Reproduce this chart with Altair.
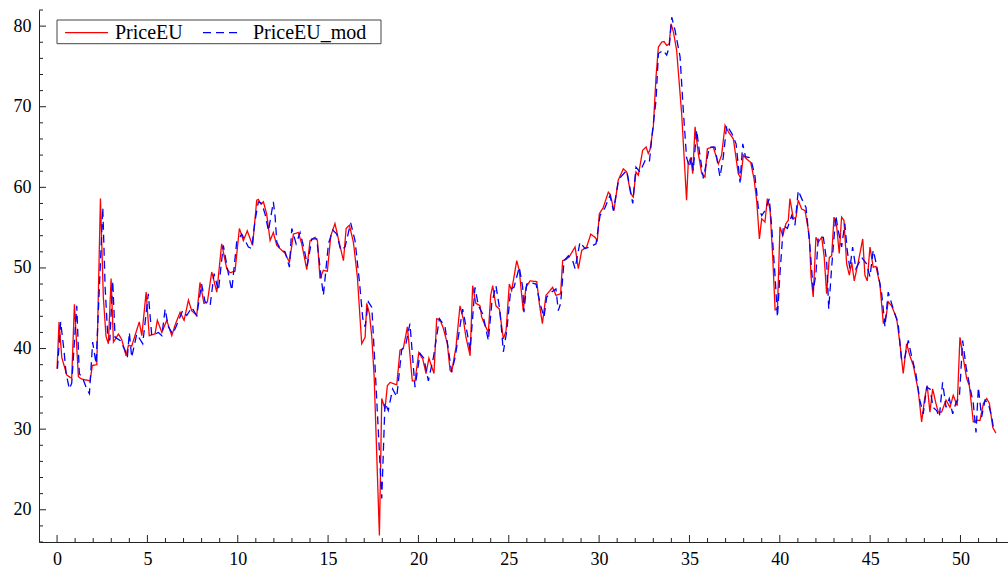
import altair as alt
import pandas as pd

# PriceEU series (time in years, price)
price_x = [
    0.00, 0.11, 0.26, 0.54, 0.81, 0.96, 1.18, 1.37, 1.83, 1.95, 2.20, 2.40, 2.56, 2.71, 2.84,
    2.99, 3.12, 3.40, 3.58, 3.82, 3.95, 4.13, 4.55, 4.69, 4.93, 5.10, 5.42, 5.55, 5.80, 6.07,
    6.35, 6.53, 6.81, 7.03, 7.27, 7.45, 7.73, 7.91, 8.13, 8.32, 8.56, 8.84, 9.11, 9.39, 9.57,
    9.85, 10.09, 10.31, 10.53, 10.82, 11.05, 11.14, 11.29, 11.42, 11.60, 11.79, 11.97, 12.16,
    12.43, 12.62, 12.86, 13.08, 13.35, 13.54, 13.82, 14.00, 14.28, 14.41, 14.55, 14.74, 14.96,
    15.15, 15.38, 15.57, 15.85, 16.00, 16.18, 16.40, 16.62, 16.86, 17.05, 17.14, 17.29, 17.42,
    17.55, 17.84, 17.97, 18.15, 18.28, 18.43, 18.80, 18.98, 19.16, 19.39, 19.66, 19.81, 20.02,
    20.24, 20.42, 20.58, 20.86, 21.01, 21.19, 21.38, 21.60, 21.75, 21.84, 22.08, 22.30, 22.48,
    22.63, 22.86, 23.00, 23.18, 23.41, 23.50, 23.68, 23.87, 24.00, 24.11, 24.29, 24.48, 24.70,
    24.85, 25.03, 25.16, 25.44, 25.58, 25.80, 25.95, 26.18, 26.55, 26.69, 26.86, 27.06, 27.43,
    27.61, 27.87, 27.98, 28.20, 28.35, 28.67, 28.85, 29.04, 29.31, 29.54, 29.77, 29.90, 30.01,
    30.23, 30.51, 30.62, 30.82, 31.06, 31.34, 31.53, 31.75, 31.89, 32.04, 32.17, 32.41, 32.60,
    32.72, 32.82, 33.00, 33.15, 33.28, 33.46, 33.59, 33.74, 33.88, 33.98, 34.11, 34.29, 34.57,
    34.84, 34.93, 35.07, 35.18, 35.31, 35.49, 35.68, 35.86, 35.99, 36.32, 36.60, 36.78, 36.97,
    37.15, 37.43, 37.70, 37.84, 37.98, 38.17, 38.39, 38.57, 38.72, 38.87, 39.00, 39.18, 39.31,
    39.46, 39.61, 39.74, 39.87, 40.01, 40.16, 40.34, 40.47, 40.56, 40.75, 40.90, 41.02, 41.21,
    41.40, 41.63, 41.73, 41.85, 42.00, 42.13, 42.32, 42.46, 42.59, 42.74, 42.87, 43.00, 43.15,
    43.29, 43.42, 43.55, 43.70, 43.85, 43.98, 44.12, 44.34, 44.59, 44.71, 44.84, 44.99, 45.17,
    45.32, 45.54, 45.73, 45.88, 46.00, 46.19, 46.47, 46.65, 46.83, 47.02, 47.20, 47.39, 47.66,
    47.85, 48.03, 48.16, 48.31, 48.46, 48.64, 48.77, 48.95, 49.20, 49.42, 49.60, 49.82, 49.97,
    50.15, 50.34, 50.49, 50.71, 50.90, 51.08, 51.27, 51.45, 51.60, 51.79, 51.96,
]
price_eu = [
    37.5, 43.3, 38.9, 36.7, 36.3, 45.5, 36.5, 36.2, 36.0, 37.9, 38.0, 58.6, 46.4, 41.5, 40.6,
    48.7, 40.8, 41.8, 41.1, 39.1, 40.4, 40.3, 43.3, 41.6, 47.0, 41.6, 41.8, 43.5, 42.0, 43.5,
    41.6, 42.9, 44.5, 43.5, 46.0, 44.7, 44.1, 48.2, 45.6, 45.8, 49.5, 47.0, 53.0, 49.9, 49.4,
    49.6, 54.9, 53.4, 54.6, 52.8, 58.4, 58.5, 57.9, 58.2, 56.7, 53.4, 54.4, 52.8,
    52.2, 51.8, 50.7, 54.2, 54.4, 53.0, 49.8, 53.4, 53.8, 53.4, 48.7, 49.7, 49.6,
    54.0, 55.5, 53.6, 50.9, 54.9, 55.3, 53.2, 48.9, 40.6, 41.4, 45.6, 44.3, 41.4,
    36.5, 16.8, 33.8, 32.5, 35.4, 35.8, 35.5, 39.8, 40.0, 42.7, 36.0, 36.0, 39.5,
    38.7, 36.9, 38.8, 36.9, 43.7, 43.6, 42.5, 40.6, 37.3, 37.1, 40.2, 45.3, 43.7,
    41.4, 39.1, 47.8, 45.6, 45.3, 43.9, 42.9, 42.0, 46.6, 47.8, 45.3, 44.9, 41.2,
    42.2, 48.0, 47.2, 50.9, 49.7, 44.7, 47.6, 48.4, 48.3, 45.6, 43.1, 46.6, 47.6,
    46.6, 46.8, 50.9, 51.1, 51.4, 52.6, 49.9, 52.2, 52.6, 54.2, 53.8, 53.4, 56.7,
    57.5, 59.4, 59.1, 57.1, 60.9, 62.3, 61.9, 59.2, 58.8, 61.9, 61.5, 64.6, 65.0,
    64.2, 64.7, 67.5, 73.7, 77.4, 78.0, 78.1, 77.6, 77.8, 80.3, 79.3, 77.0, 69.1,
    58.4, 62.9, 63.7, 61.7, 67.5, 64.2, 61.7, 61.3, 64.8, 65.0, 62.9, 64.0, 67.7,
    66.9, 66.0, 61.7, 61.1, 64.0, 63.5, 63.1, 61.1, 58.4, 53.6, 56.1, 55.7, 58.6,
    57.3, 51.3, 44.8, 44.9, 55.1, 54.0, 55.5, 55.9, 58.6, 56.1, 56.3, 58.4, 57.3,
    57.1, 54.0, 48.9, 46.4, 53.8, 53.2, 53.8, 51.3, 46.8, 51.3, 51.5, 56.3, 55.1,
    51.8, 56.3, 55.9, 50.5, 49.1, 50.7, 48.4, 50.7, 53.6, 49.1, 48.4, 52.6, 50.1,
    50.2, 48.0, 43.1, 43.9, 45.8, 45.3, 43.7, 40.6, 36.9, 40.6, 39.1, 37.9, 34.8,
    30.9, 34.0, 35.4, 32.1, 35.0, 33.2, 32.1, 32.1, 33.6, 32.7, 34.2, 32.9, 41.4,
    38.9, 36.3, 35.4, 30.9, 31.1, 31.1, 33.2, 33.8, 33.2, 30.2, 29.5,
]

# PriceEU_mod series (model estimate)
mod_x = [
    0.02, 0.20, 0.39, 0.50, 0.68, 0.81, 1.09, 1.23, 1.42, 1.64, 1.79, 1.97, 2.16, 2.53, 2.66,
    2.80, 2.92, 3.08, 3.21, 3.49, 3.76, 3.89, 4.00, 4.13, 4.41, 4.74, 5.05, 5.24, 5.61, 5.80,
    5.98, 6.16, 6.40, 6.60, 6.95, 7.18, 7.45, 7.73, 8.00, 8.19, 8.47, 8.69, 8.93, 9.20, 9.48,
    9.67, 9.94, 10.22, 10.59, 10.77, 10.96, 11.14, 11.33, 11.51, 11.70, 11.97, 12.07, 12.16,
    12.34, 12.62, 12.86, 12.99, 13.23, 13.45, 13.67, 13.85, 14.10, 14.37, 14.65, 14.74, 15.02,
    15.26, 15.48, 15.70, 15.94, 16.25, 16.49, 16.73, 16.92, 17.05, 17.23, 17.42, 17.60, 17.97,
    18.15, 18.33, 18.57, 18.80, 19.07, 19.30, 19.53, 19.81, 20.09, 20.30, 20.55, 20.83, 21.16,
    21.47, 21.84, 22.03, 22.45, 22.71, 22.86, 23.13, 23.32, 23.56, 23.87, 24.06, 24.29, 24.51,
    24.70, 24.89, 25.11, 25.29, 25.58, 25.77, 25.84, 25.99, 26.18, 26.51, 26.73, 26.95, 27.10,
    27.37, 27.61, 27.74, 27.87, 28.06, 28.30, 28.54, 28.67, 28.94, 29.22, 29.50, 29.83, 30.05,
    30.33, 30.60, 30.79, 31.06, 31.20, 31.53, 31.86, 32.04, 32.26, 32.54, 32.78, 32.96, 33.15,
    33.28, 33.55, 33.74, 33.88, 34.02, 34.20, 34.48, 34.66, 34.84, 34.99, 35.12, 35.21, 35.40,
    35.54, 35.77, 36.10, 36.41, 36.69, 36.87, 37.06, 37.34, 37.58, 37.80, 37.95, 38.10, 38.31,
    38.44, 38.62, 38.81, 39.00, 39.18, 39.42, 39.55, 39.74, 39.87, 40.01, 40.20, 40.42, 40.66,
    40.84, 41.02, 41.21, 41.45, 41.67, 41.85, 42.00, 42.13, 42.41, 42.59, 42.71, 42.87, 43.10,
    43.23, 43.42, 43.60, 43.73, 43.88, 44.03, 44.21, 44.53, 44.80, 44.99, 45.17, 45.36, 45.64,
    45.82, 46.00, 46.28, 46.55, 46.74, 46.92, 47.11, 47.29, 47.53, 47.75, 47.94, 48.13, 48.31,
    48.49, 48.68, 48.83, 49.01, 49.20, 49.38, 49.57, 49.75, 49.94, 50.12, 50.31, 50.49, 50.71,
    50.86, 50.99, 51.17, 51.36, 51.54, 51.73, 51.85,
]
price_eu_mod = [
    37.5, 43.3, 39.6, 36.9, 35.0, 35.7, 45.3, 36.9, 36.3, 35.0, 34.4, 40.8, 38.1, 57.5, 47.6,
    41.8, 41.0, 48.4, 41.4, 41.0, 39.8, 38.9, 42.0, 38.9, 41.8, 40.6, 46.8, 41.6, 42.0, 41.6,
    44.9, 42.7, 41.8, 42.8, 44.7, 44.1, 45.1, 44.1, 48.0, 45.8, 45.3, 49.3, 47.2, 52.8, 49.3,
    47.2, 53.2, 54.2, 52.6, 52.4, 55.9, 58.2, 58.0, 56.7, 54.6, 58.2, 56.3, 53.2,
    52.4, 52.0, 50.1, 54.9, 53.0, 54.4, 52.4, 50.3, 53.6, 53.6, 48.2, 46.6, 53.0,
    54.7, 54.2, 52.2, 52.6, 55.6, 53.4, 48.4, 43.7, 42.7, 45.8, 45.1, 37.7, 21.4,
    33.3, 32.3, 35.0, 34.0, 39.8, 40.5, 43.1, 35.2, 39.4, 38.8, 36.0, 38.9, 43.7,
    42.7, 37.1, 38.9, 44.9, 41.8, 39.8, 47.6, 45.3, 44.3, 41.0, 45.6, 47.8, 44.7,
    39.6, 42.2, 47.4, 47.6, 50.1, 47.6, 44.5, 48.0, 48.2, 48.0, 45.6, 43.9, 46.4,
    47.0, 47.4, 44.7, 45.6, 50.9, 51.5, 50.9, 49.9, 53.2, 52.4, 52.6, 53.0, 56.5,
    57.5, 59.0, 57.1, 60.7, 61.3, 62.1, 58.0, 62.5, 61.9, 63.3, 63.1, 67.1, 70.8,
    76.6, 77.0, 76.4, 77.4, 81.1, 79.5, 76.2, 69.5, 63.7, 62.5, 63.7, 62.1, 67.1,
    64.6, 61.1, 65.0, 65.0, 61.3, 63.7, 67.7, 66.7, 65.4, 60.6, 65.4, 63.8, 63.7,
    63.1, 61.5, 57.5, 56.5, 57.1, 58.6, 55.1, 48.9, 43.9, 49.3, 55.3, 54.9, 56.5,
    55.3, 59.6, 58.6, 57.5, 52.6, 47.2, 49.3, 53.8, 53.8, 50.9, 44.9, 50.1, 56.5,
    54.7, 52.6, 55.5, 52.2, 49.9, 52.6, 49.9, 51.3, 50.5, 48.9, 52.2, 50.3, 46.8,
    42.7, 47.0, 44.9, 43.1, 38.5, 38.9, 41.0, 39.1, 36.9, 33.6, 31.9, 35.2, 35.0,
    32.7, 32.3, 31.5, 35.8, 32.7, 33.8, 31.9, 33.3, 34.0, 41.0, 37.7, 35.6, 33.2,
    29.6, 35.2, 31.5, 33.6, 33.2, 31.5, 29.8,
]

series_names = ["PriceEU", "PriceEU_mod"]
series_colors = ["#ff0000", "#0000ff"]
series_dashes = [[1, 0], [8, 5]]

# Axis tick positions (labels on the major ones, short inward marks on all)
x_major = list(range(0, 51, 5))
x_minor = [v for v in range(0, 53) if v % 5]
y_major = list(range(20, 81, 10))
y_minor = [v for v in range(16, 83, 2) if v % 10]

X_DOMAIN = [-1.0, 52.63]
Y_DOMAIN = [16, 82]
PLOT_W, PLOT_H = 969, 532
FONT = "Liberation Serif"
AXIS_COLOR = "#222222"
LINE_W = 1.3

df = pd.concat(
    [
        pd.DataFrame({"t": price_x, "v": price_eu, "series": series_names[0]}),
        pd.DataFrame({"t": mod_x, "v": price_eu_mod, "series": series_names[1]}),
    ],
    ignore_index=True,
)

xs = alt.Scale(domain=X_DOMAIN, nice=False, zero=False)
ys = alt.Scale(domain=Y_DOMAIN, nice=False, zero=False)

axis_style = dict(
    title=None, grid=False, ticks=False, tickSize=0,
    domainColor=AXIS_COLOR, domainWidth=1, labelFont=FONT, labelFontSize=18,
    labelColor="black", labelPadding=8, labelFlush=False, labelOverlap=False,
)
x_axis = alt.Axis(values=x_major, **axis_style)
y_axis = alt.Axis(values=y_major, **axis_style)

lines = alt.Chart(df).mark_line(strokeWidth=LINE_W).encode(
    x=alt.X("t:Q", scale=xs, axis=x_axis),
    y=alt.Y("v:Q", scale=ys, axis=y_axis),
    color=alt.Color(
        "series:N",
        scale=alt.Scale(domain=series_names, range=series_colors),
        legend=None,
    ),
    strokeDash=alt.StrokeDash(
        "series:N",
        scale=alt.Scale(domain=series_names, range=series_dashes),
        legend=None,
    ),
)


def x_ticks(values, length):
    return alt.Chart(pd.DataFrame({"t": values})).mark_rule(
        color=AXIS_COLOR, strokeWidth=1
    ).encode(
        x=alt.X("t:Q", scale=xs, axis=x_axis),
        y=alt.value(PLOT_H),
        y2=alt.value(PLOT_H - length),
    )


def y_ticks(values, length):
    return alt.Chart(pd.DataFrame({"v": values})).mark_rule(
        color=AXIS_COLOR, strokeWidth=1
    ).encode(
        y=alt.Y("v:Q", scale=ys, axis=y_axis),
        x=alt.value(0),
        x2=alt.value(length),
    )


# Boxed legend in the upper-left corner of the plot
LEG_BOX = (18, 342, 10, 33.7)          # x0, x1, y0, y1 in plot pixels
LEG_SAMPLE = [(26, 69), (164, 202)]    # line sample extents per entry
LEG_TEXT_X = [76, 214]
LEG_ROW_Y = 22.7

legend_layers = [
    alt.Chart(pd.DataFrame({"series": series_names[:1]})).mark_rect(
        fill="white", stroke="#444444", strokeWidth=1
    ).encode(
        x=alt.value(LEG_BOX[0]), x2=alt.value(LEG_BOX[1]),
        y=alt.value(LEG_BOX[2]), y2=alt.value(LEG_BOX[3]),
    )
]
for i, name in enumerate(series_names):
    entry = pd.DataFrame({"series": [name]})
    legend_layers.append(
        alt.Chart(entry).mark_rule(
            color=series_colors[i], strokeDash=series_dashes[i], strokeWidth=LINE_W
        ).encode(
            x=alt.value(LEG_SAMPLE[i][0]), x2=alt.value(LEG_SAMPLE[i][1]),
            y=alt.value(LEG_ROW_Y),
        )
    )
    legend_layers.append(
        alt.Chart(entry).mark_text(
            font=FONT, fontSize=20, color="black", align="left", baseline="alphabetic"
        ).encode(
            text="series:N",
            x=alt.value(LEG_TEXT_X[i]),
            y=alt.value(LEG_ROW_Y + 6.6),
        )
    )

chart = alt.layer(
    lines,
    x_ticks(x_major, 7),
    x_ticks(x_minor, 4),
    y_ticks(y_major, 7),
    y_ticks(y_minor, 4),
    *legend_layers,
).properties(
    width=PLOT_W,
    height=PLOT_H,
    autosize=alt.AutoSizeParams(type="none"),
    padding={"left": 39, "top": 10, "right": 0, "bottom": 26},
    background="white",
).configure_view(stroke=None)

chart.save("out.html", embed_options={"renderer": "svg", "actions": False})
